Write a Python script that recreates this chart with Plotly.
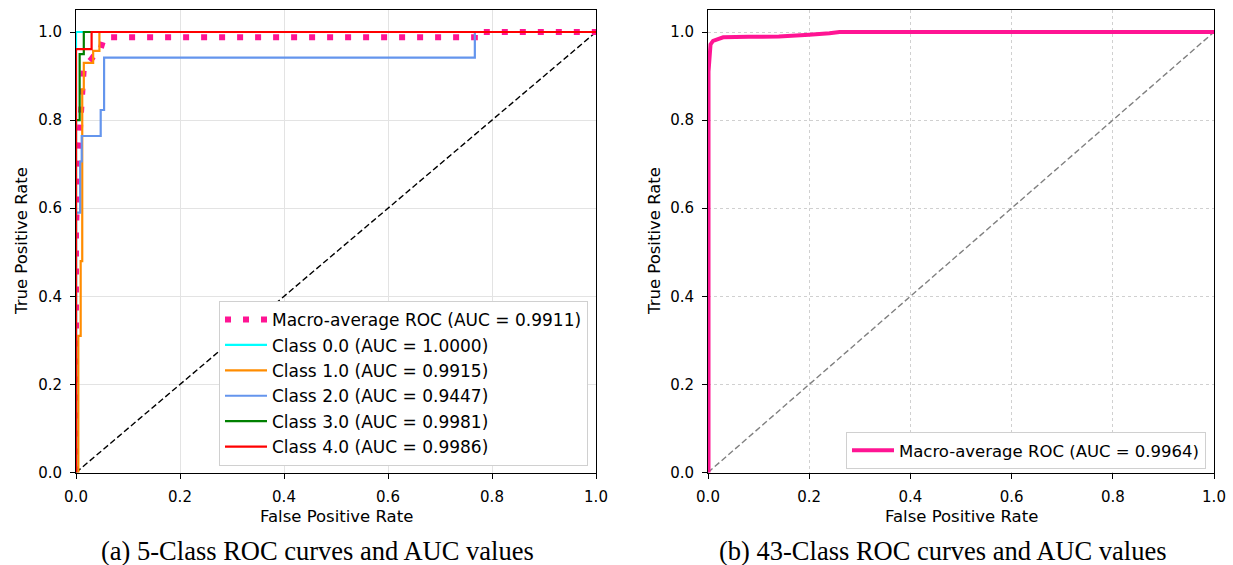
import plotly.graph_objects as go

# ---------------- data ----------------
# Panel (a): 5-class ROC curves
macro5_fpr = [0.0, 0.0, 0.005, 0.01, 0.015, 0.03, 0.033, 0.045, 0.0475, 0.054, 0.767, 0.767, 1.0]
macro5_tpr = [0.0, 0.55, 0.73, 0.82, 0.919, 0.939, 0.944, 0.953, 0.965, 0.988, 0.988, 1.0, 1.0]

c0_fpr = [0.0, 0.0, 1.0]
c0_tpr = [0.0, 1.0, 1.0]

c1_fpr = [0.0, 0.0045, 0.0045, 0.009, 0.009, 0.012, 0.012, 0.015, 0.015, 0.033, 0.033, 0.045, 0.045, 1.0]
c1_tpr = [0.0, 0.0, 0.31, 0.31, 0.48, 0.48, 0.87, 0.87, 0.93, 0.93, 0.957, 0.957, 1.0, 1.0]

c2_fpr = [0.0, 0.0, 0.008, 0.008, 0.011, 0.011, 0.0475, 0.0475, 0.054, 0.054, 0.767, 0.767, 1.0]
c2_tpr = [0.0, 0.59, 0.59, 0.706, 0.706, 0.764, 0.764, 0.823, 0.823, 0.942, 0.942, 1.0, 1.0]

c3_fpr = [0.0, 0.0, 0.007, 0.007, 0.015, 0.015, 1.0]
c3_tpr = [0.0, 0.8, 0.8, 0.95, 0.95, 1.0, 1.0]

c4_fpr = [0.0, 0.0, 0.03, 0.03, 1.0]
c4_tpr = [0.0, 0.961, 0.961, 1.0, 1.0]

names5 = ["Macro-average ROC (AUC = 0.9911)",
          "Class 0.0 (AUC = 1.0000)",
          "Class 1.0 (AUC = 0.9915)",
          "Class 2.0 (AUC = 0.9447)",
          "Class 3.0 (AUC = 0.9981)",
          "Class 4.0 (AUC = 0.9986)"]
colors5 = ["#ff1493", "#00ffff", "#ff8c00", "#6495ed", "#008000", "#ff0000"]

# Panel (b): 43-class macro-average ROC
macro43_fpr = [0.0, 0.001, 0.001, 0.003, 0.005, 0.01, 0.02, 0.03, 0.08, 0.14, 0.2, 0.22, 0.24, 0.26, 0.35, 1.0]
macro43_tpr = [0.0, 0.0, 0.91, 0.95, 0.972, 0.98, 0.985, 0.988, 0.989, 0.99, 0.994, 0.995, 0.997, 1.0, 1.0, 1.0]
name43 = "Macro-average ROC (AUC = 0.9964)"

diag = [0.0, 1.0]
tick_vals = [0.0, 0.2, 0.4, 0.6, 0.8, 1.0]
tick_text = ["0.0", "0.2", "0.4", "0.6", "0.8", "1.0"]

captions = ["(a) 5-Class ROC curves and AUC values", "(b) 43-Class ROC curves and AUC values"]

# ---------------- figure ----------------
W, H = 1233, 565
fig = go.Figure()

# left panel
fig.add_trace(go.Scatter(x=diag, y=diag, mode="lines", showlegend=False,
                         line=dict(color="black", width=1.4, dash="6px,3px"),
                         xaxis="x", yaxis="y", hoverinfo="skip"))
curves5 = [(macro5_fpr, macro5_tpr), (c0_fpr, c0_tpr), (c1_fpr, c1_tpr),
           (c2_fpr, c2_tpr), (c3_fpr, c3_tpr), (c4_fpr, c4_tpr)]
for i, ((fx, ty), nm, col) in enumerate(zip(curves5, names5, colors5)):
    if i == 0:
        ln = dict(color=col, width=6, dash="6px,12px")
    else:
        ln = dict(color=col, width=2.2)
    fig.add_trace(go.Scatter(x=fx, y=ty, mode="lines", name=nm, line=ln,
                             legend="legend", legendgroup=f"g{i}",
                             xaxis="x", yaxis="y"))

# right panel
fig.add_trace(go.Scatter(x=diag, y=diag, mode="lines", showlegend=False,
                         line=dict(color="#808080", width=1.4, dash="6px,3px"),
                         xaxis="x2", yaxis="y2", hoverinfo="skip"))
fig.add_trace(go.Scatter(x=macro43_fpr, y=macro43_tpr, mode="lines", name=name43,
                         line=dict(color="#ff1493", width=4),
                         legend="legend2", xaxis="x2", yaxis="y2"))

y_dom = [1 - 472.5 / H, 1 - 10 / H]
xl_dom = [76 / W, 596 / W]
xr_dom = [708 / W, 1214 / W]

tickfont = dict(family="DejaVu Sans", size=15, color="black")
common = dict(range=[0, 1], tickvals=tick_vals, ticktext=tick_text, ticks="outside",
              ticklen=5, tickwidth=1, tickcolor="black", showline=True, linecolor="black",
              linewidth=1, mirror=True, zeroline=False, tickfont=tickfont,
              ticklabelstandoff=5, automargin=False)
ycommon = dict(common)
ycommon["range"] = [0, 1.05]

fig.update_layout(
    width=W, height=H, margin=dict(l=0, r=0, t=0, b=0, pad=0, autoexpand=False),
    paper_bgcolor="white", plot_bgcolor="white",
    font=dict(family="DejaVu Sans", size=15, color="black"),
    xaxis=dict(domain=xl_dom, anchor="y", showgrid=True, gridcolor="#e3e3e3", gridwidth=1, **common),
    yaxis=dict(domain=y_dom, anchor="x", showgrid=True, gridcolor="#e3e3e3", gridwidth=1, **ycommon),
    xaxis2=dict(domain=xr_dom, anchor="y2", showgrid=True, gridcolor="#d0d0d0", gridwidth=1,
                griddash="dot", **common),
    yaxis2=dict(domain=y_dom, anchor="x2", showgrid=True, gridcolor="#d0d0d0", gridwidth=1,
                griddash="dot", **ycommon),
    legend=dict(x=588 / W, y=1 - 466 / H, xanchor="right", yanchor="bottom",
                bgcolor="white", bordercolor="#d0d0d0", borderwidth=1,
                tracegroupgap=0.3, itemwidth=42,
                font=dict(family="DejaVu Sans", size=17, color="black")),
    legend2=dict(x=1206 / W, y=1 - 469 / H, xanchor="right", yanchor="bottom",
                 bgcolor="white", bordercolor="#d0d0d0", borderwidth=1,
                 itemwidth=42,
                 font=dict(family="DejaVu Sans", size=16.5, color="black")),
    showlegend=True,
)

ann = []
axis_title_font = dict(family="DejaVu Sans", size=16.5, color="black")
for xc in [(76 + 596) / 2, (708 + 1214) / 2]:
    ann.append(dict(text="False Positive Rate", x=xc / W, y=1 - 516 / H, xref="paper", yref="paper",
                    showarrow=False, xanchor="center", yanchor="middle", font=axis_title_font))
for xc in [22, 655]:
    ann.append(dict(text="True Positive Rate", x=xc / W, y=1 - 241 / H, xref="paper", yref="paper",
                    showarrow=False, xanchor="center", yanchor="middle", textangle=-90,
                    font=axis_title_font))
for xc, cap in zip([317, 943], captions):
    ann.append(dict(text=cap, x=xc / W, y=1 - 551 / H, xref="paper", yref="paper",
                    showarrow=False, xanchor="center", yanchor="middle",
                    font=dict(family="Liberation Serif", size=26.5, color="black")))
fig.update_layout(annotations=ann)

fig.write_html("out.html", config={"displayModeBar": False},
               post_script="document.body.style.margin='0px';")
